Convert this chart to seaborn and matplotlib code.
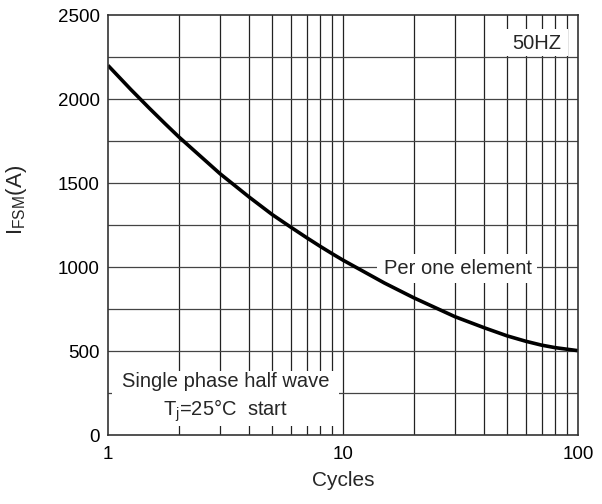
import numpy as np
import pandas as pd
import seaborn as sns
import matplotlib.pyplot as plt
from matplotlib.patches import Rectangle
from matplotlib.ticker import FixedLocator, NullFormatter

# values
cycles = [1, 1.25, 1.5, 1.75, 2, 3, 4, 5, 6, 7, 8, 9, 10, 15, 20, 30, 40, 50, 60, 70, 80, 100]
ifsm = [2200, 2057, 1945, 1853, 1775, 1555, 1415, 1312, 1237, 1175, 1123, 1079, 1041,
        905, 817, 704, 638, 590, 558, 535, 520, 502]

df = pd.DataFrame({'Cycles': cycles, 'IFSM': ifsm})

sns.set_style('white')
plt.rcParams['font.family'] = ['Liberation Sans', 'DejaVu Sans']

fig = plt.figure(figsize=(6.02, 5.04), dpi=100)
ax = fig.add_axes([0.1794, 0.1369, 0.7806, 0.8333])

# grid
minor = [i * 10 ** d for d in range(2) for i in range(2, 10)]
for x in minor + [10]:
    ax.axvline(x, color='#222222', lw=0.9, zorder=1)
for y in range(250, 2500, 250):
    ax.axhline(y, color='#444444', lw=0.9, zorder=1)

sns.lineplot(data=df, x='Cycles', y='IFSM', ax=ax, color='black', lw=2.6, zorder=5,
             solid_joinstyle='round', solid_capstyle='butt')

ax.set_xscale('log')
ax.set_xlim(1, 100)
ax.set_ylim(0, 2500)
ax.xaxis.set_major_locator(FixedLocator([1, 10, 100]))
ax.set_xticklabels(['1', '10', '100'])
ax.xaxis.set_minor_formatter(NullFormatter())
ax.set_yticks([0, 500, 1000, 1500, 2000, 2500])
ax.tick_params(axis='both', labelsize=13.5, length=0, pad=6, colors='black')
ax.tick_params(axis='x', pad=8)
for s in ax.spines.values():
    s.set_color('#333333')
    s.set_linewidth(1.2)
    s.set_zorder(6)

ax.set_xlabel('Cycles', fontsize=15)
ax.xaxis.set_label_coords(0.5, -0.109)
ax.xaxis.label.set_va('center')
ax.set_ylabel('I$_{\\mathregular{FSM}}$(A)', fontsize=16)
ax.yaxis.set_label_coords(-0.194, 0.56)
ax.yaxis.label.set_va('center')

# white boxes behind the notes
for bx, by, bw, bh in [(0.835, 0.903, 0.143, 0.064),
                       (0.572, 0.363, 0.340, 0.067),
                       (0.0085, 0.021, 0.483, 0.131)]:
    ax.add_patch(Rectangle((bx, by), bw, bh, transform=ax.transAxes,
                           facecolor='white', edgecolor='none', zorder=3))

ax.text(0.912, 0.933, '50HZ', transform=ax.transAxes, fontsize=14.5,
        ha='center', va='center', zorder=4)
ax.text(0.745, 0.397, 'Per one element', transform=ax.transAxes, fontsize=14.5,
        ha='center', va='center', zorder=4)
ax.text(0.251, 0.088, 'Single phase half wave\nT$_{\\mathregular{j}}$=25°C  start',
        transform=ax.transAxes, fontsize=14.5, ha='center', va='center',
        linespacing=1.4, zorder=4)

plt.savefig('out.png', dpi=100)
